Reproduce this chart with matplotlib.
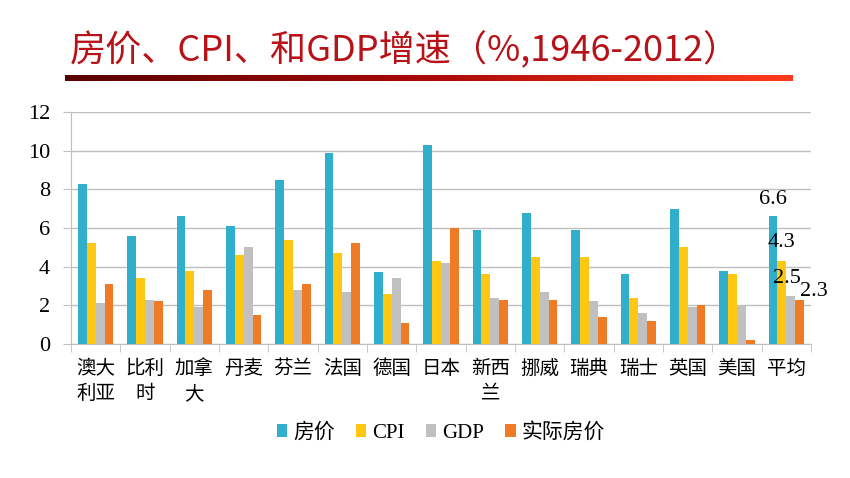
import matplotlib
matplotlib.use("Agg")
import matplotlib.pyplot as plt
import numpy as np
from matplotlib.colors import LinearSegmentedColormap

categories = ["澳大\n利亚", "比利\n时", "加拿\n大", "丹麦", "芬兰", "法国", "德国", "日本",
              "新西\n兰", "挪威", "瑞典", "瑞士", "英国", "美国", "平均"]
house = [8.3, 5.6, 6.6, 6.1, 8.5, 9.9, 3.7, 10.3, 5.9, 6.8, 5.9, 3.6, 7.0, 3.8, 6.6]
cpi = [5.2, 3.4, 3.8, 4.6, 5.4, 4.7, 2.6, 4.3, 3.6, 4.5, 4.5, 2.4, 5.0, 3.6, 4.3]
gdp = [2.1, 2.3, 1.9, 5.0, 2.8, 2.7, 3.4, 4.2, 2.4, 2.7, 2.2, 1.6, 1.9, 2.0, 2.5]
real_house = [3.1, 2.2, 2.8, 1.5, 3.1, 5.2, 1.1, 6.0, 2.3, 2.3, 1.4, 1.2, 2.0, 0.2, 2.3]
series_names = ["房价", "CPI", "GDP", "实际房价"]
yticks = [0, 2, 4, 6, 8, 10, 12]
title = "房价、CPI、和GDP增速（%,1946-2012）"

colors = ["#2FAFCB", "#FFC612", "#C0C0C0", "#F07B27"]
serif = ["Liberation Serif", "Noto Sans CJK SC"]
cjk = ["Noto Sans CJK SC", "DejaVu Sans"]

fig = plt.figure(figsize=(8.5, 4.78), dpi=100)
W, H = 850, 478

# title
fig.text(70 / W, 1 - 50 / H, title, color="#B81218", fontsize=26,
         family=cjk, ha="left", va="center")

# gradient underline
gax = fig.add_axes([65 / W, 1 - 81 / H, (793 - 65) / W, 6 / H])
cmap = LinearSegmentedColormap.from_list("g", ["#580000", "#A80A08", "#FF3A1C"])
gax.imshow(np.linspace(0, 1, 256)[None, :], aspect="auto", cmap=cmap)
gax.axis("off")

ax = fig.add_axes([71 / W, 1 - 344 / H, 740 / W, 232 / H])
x = np.arange(len(categories))
w = 0.18
all_series = [house, cpi, gdp, real_house]
bars = []
for i, (vals, c, name) in enumerate(zip(all_series, colors, series_names)):
    b = ax.bar(x + (i - 1.5) * w, vals, width=w, color=c, label=name, zorder=3)
    bars.append(b)

ax.set_xlim(-0.5, len(categories) - 0.5)
ax.set_ylim(0, 12)
ax.set_yticks(yticks)
ax.set_yticklabels([str(t) for t in yticks], family=serif, fontsize=16)
ax.yaxis.grid(True, color="#BFBFBF", lw=1, zorder=0)
for s in ["top", "right"]:
    ax.spines[s].set_visible(False)
for s in ["left", "bottom"]:
    ax.spines[s].set_color("#BFBFBF")
ax.tick_params(axis="y", length=6, color="#BFBFBF", pad=9)
ax.set_xticks(x)
ax.set_xticklabels(categories, family=cjk, fontsize=14, linespacing=1.25, va="top")
ax.tick_params(axis="x", which="major", length=0, pad=10)
ax.set_xticks(np.arange(-0.5, len(categories), 1), minor=True)
ax.tick_params(axis="x", which="minor", length=6, color="#BFBFBF")

# data labels for the last group (平均)
last = len(categories) - 1
offsets = [(0, 12), (0, 13), (-2.5, 12.5), (10, 5.5)]
for i, (vals, off) in enumerate(zip(all_series, offsets)):
    ax.annotate(f"{vals[last]:.1f}", (x[last] + (i - 1.5) * w, vals[last]),
                xytext=off, textcoords="offset points", ha="center", va="center",
                family=serif, fontsize=16, zorder=5)

fig.legend(handles=bars, labels=series_names, loc="center", ncol=4,
           bbox_to_anchor=(441 / W, 1 - 433 / H), frameon=False,
           prop={"family": serif, "size": 15}, handlelength=0.5, handleheight=0.6,
           handletextpad=0.3, columnspacing=1.0)

fig.savefig("out.png", dpi=100)
